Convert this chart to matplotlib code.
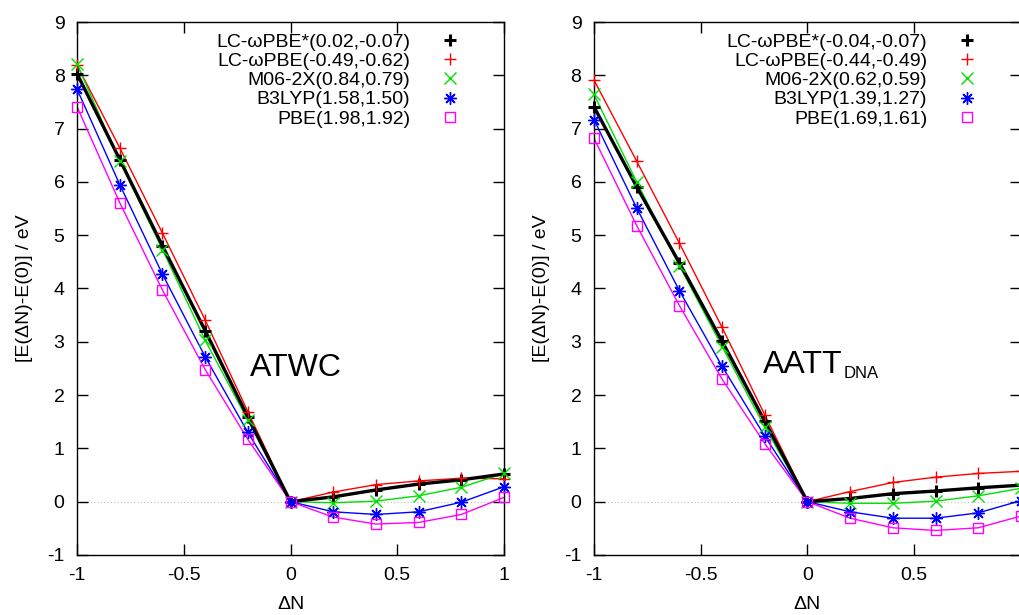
import numpy as np
import matplotlib
matplotlib.use("Agg")
from matplotlib import pyplot as plt

plt.rcParams['font.family'] = ['Liberation Sans', 'DejaVu Sans']

# fractional electron number
dn = [-1.0, -0.8, -0.6, -0.4, -0.2, 0.0, 0.2, 0.4, 0.6, 0.8, 1.0]

methods = ['LC-ωPBE*', 'LC-ωPBE', 'M06-2X', 'B3LYP', 'PBE']

# ATWC
atwc_lcs = [8.03, 6.42, 4.80, 3.21, 1.59, 0.0, 0.09, 0.22, 0.33, 0.41, 0.52]
atwc_lc = [8.19, 6.64, 5.04, 3.41, 1.69, 0.0, 0.18, 0.32, 0.39, 0.44, 0.43]
atwc_m06 = [8.21, 6.39, 4.73, 3.03, 1.53, 0.0, -0.02, 0.01, 0.11, 0.27, 0.53]
atwc_b3 = [7.74, 5.95, 4.27, 2.72, 1.30, 0.0, -0.19, -0.24, -0.19, -0.01, 0.28]
atwc_pbe = [7.41, 5.61, 3.97, 2.48, 1.17, 0.0, -0.29, -0.42, -0.39, -0.24, 0.08]
atwc_err = ['(0.02,-0.07)', '(-0.49,-0.62)', '(0.84,0.79)', '(1.58,1.50)', '(1.98,1.92)']

# AATT DNA
aatt_lcs = [7.41, 5.91, 4.48, 3.01, 1.51, 0.0, 0.06, 0.15, 0.20, 0.26, 0.31]
aatt_lc = [7.91, 6.39, 4.85, 3.27, 1.63, 0.0, 0.19, 0.36, 0.46, 0.53, 0.57]
aatt_m06 = [7.64, 6.00, 4.43, 2.91, 1.40, 0.0, -0.03, -0.03, 0.01, 0.11, 0.25]
aatt_b3 = [7.17, 5.51, 3.96, 2.54, 1.23, 0.0, -0.19, -0.31, -0.31, -0.21, 0.02]
aatt_pbe = [6.82, 5.18, 3.68, 2.30, 1.09, 0.0, -0.31, -0.49, -0.54, -0.49, -0.27]
aatt_err = ['(-0.04,-0.07)', '(-0.44,-0.49)', '(0.62,0.59)', '(1.39,1.27)', '(1.69,1.61)']

xticks = [-1, -0.5, 0, 0.5, 1]
xtick_labels = ['-1', '-0.5', '0', '0.5', '1']
yticks = list(range(-1, 10))

colors = ['black', '#ff0000', '#00e000', '#0000ff', '#ff00ff']
markers = ['+', '+', 'x', (8, 2, 0), 's']
mew = [2.2, 1.0, 1.0, 1.0, 1.0]
lws = [2.4, 1.0, 1.0, 1.0, 1.0]

fig = plt.figure(figsize=(10.19, 6.15), dpi=100)
ax1 = fig.add_axes([0.0756, 0.0976, 0.419, 0.8666])
ax2 = fig.add_axes([0.5829, 0.0976, 0.419, 0.8666])

panels = [
    (ax1, [atwc_lcs, atwc_lc, atwc_m06, atwc_b3, atwc_pbe], atwc_err),
    (ax2, [aatt_lcs, aatt_lc, aatt_m06, aatt_b3, aatt_pbe], aatt_err),
]

for ax, series, errs in panels:
    ax.axhline(0, color='#bbbbbb', lw=0.8, ls=(0, (1, 2)), zorder=0)
    for i, ys in enumerate(series):
        ax.plot(dn, ys, color=colors[i], lw=lws[i], zorder=3 if i == 0 else 2)
        mfc = 'none' if markers[i] == 's' else colors[i]
        ax.plot(dn, ys, ls='none', marker=markers[i], ms=9 if markers[i] != 's' else 7,
                mew=mew[i], mec=colors[i], mfc=mfc, color=colors[i],
                label=methods[i] + errs[i], zorder=4, clip_on=False)
    ax.set_xlim(-1, 1)
    ax.set_ylim(-1, 9)
    ax.set_xticks(xticks)
    ax.set_yticks(yticks)
    ax.set_yticklabels([str(v) for v in yticks])
    ax.tick_params(direction='in', length=8, width=1, top=True, right=True,
                   labelsize=14, pad=9)
    for s in ax.spines.values():
        s.set_linewidth(1.0)
    ax.set_xlabel('ΔN', fontsize=14, labelpad=8)
    ax.set_ylabel('[E(ΔN)-E(0)] / eV', fontsize=14, labelpad=10)
    ax.legend(loc='upper right', bbox_to_anchor=(0.92, 0.997), markerfirst=False,
              frameon=False, fontsize=14, handlelength=1.0, handletextpad=1.56,
              labelspacing=0.08, borderpad=0, numpoints=1)

ax1.set_xticklabels(xtick_labels)
# right panel is cut at the image edge, its last label falls outside
ax2.set_xticklabels(xtick_labels[:-1] + [''])

ax1.text(0.405, 0.336, 'ATWC', transform=ax1.transAxes, fontsize=23, ha='left', va='baseline')
ax2.text(0.396, 0.342, 'AATT', transform=ax2.transAxes, fontsize=23, ha='left', va='baseline')
ax2.text(0.585, 0.333, 'DNA', transform=ax2.transAxes, fontsize=12, ha='left', va='baseline')

fig.savefig('out.png', dpi=100)
